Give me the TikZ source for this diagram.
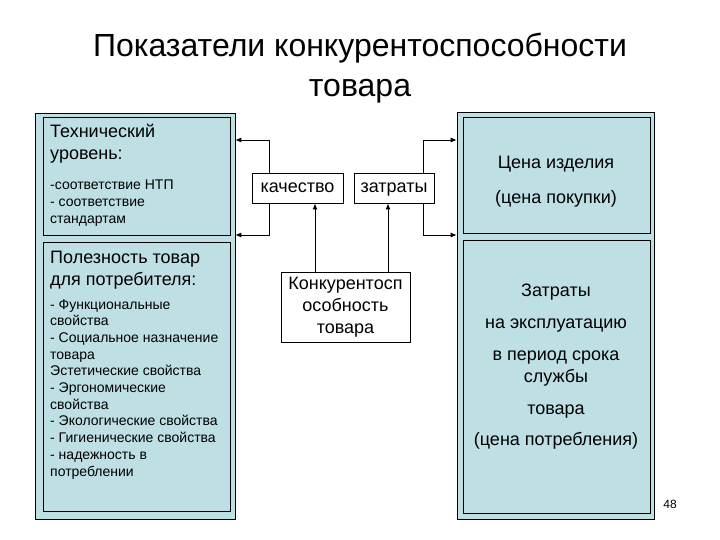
\documentclass[tikz,border=0pt]{standalone}
\usepackage{fontspec}
\setmainfont{Liberation Sans}
\usetikzlibrary{positioning,arrows.meta}
\definecolor{panelblue}{RGB}{190,223,228}

\begin{document}
\begin{tikzpicture}[
  x=1pt, y=-1pt,
  panel/.style={draw, fill=panelblue, line width=0.6pt},
  box/.style={draw, line width=0.9pt, inner sep=0pt},
  head/.style={inner sep=0pt, align=left, font=\fontsize{18}{22}\selectfont},
  list/.style={inner sep=0pt, align=left, font=\fontsize{14}{16.7}\selectfont},
  rtext/.style={inner sep=0pt, align=center, font=\fontsize{18}{22}\selectfont},
  wbox/.style={draw, fill=white, line width=0.9pt, align=center, inner sep=2pt, font=\fontsize{18}{22}\selectfont},
  word/.style={wbox, text height=13pt, text depth=4pt},
  arrow/.style={-{Latex[length=6pt,width=5pt]}, line width=0.9pt}
]
\useasboundingbox (0,0) rectangle (720,540);
% base of a multi-line node = baseline of its last line
\node[anchor=base, align=center, inner sep=0pt, font=\fontsize{32}{40}\selectfont] (title) at (360,97) {Показатели конкурентоспособности\\товара};

% left side
\node[panel, minimum width=200pt, minimum height=406pt] (leftpanel) at (135,316) {};
\node[box, minimum width=187pt, minimum height=118pt] (tech) at (136.5,176) {};
\node[box, minimum width=187pt, minimum height=269pt] (useful) at (136.5,376.5) {};
\node[head, anchor=base west] (techhead) at (50,160) {Технический\\уровень:};
\node[list, anchor=base west] (techlist) at (50,223) {-соответствие НТП\\- соответствие\\стандартам};
\node[head, anchor=base west] (usehead) at (50,285) {Полезность товар\\для потребителя:};
\node[list, anchor=base west] (uselist) at (50,476) {- Функциональные\\свойства\\- Социальное назначение\\товара\\Эстетические свойства\\- Эргономические\\свойства\\- Экологические свойства\\- Гигиенические свойства\\- надежность в\\потреблении};

% right side
\node[panel, minimum width=197pt, minimum height=407pt] (rightpanel) at (555.5,315.5) {};
\node[box, minimum width=187pt, minimum height=116pt] (price) at (556.5,175) {};
\node[box, minimum width=187pt, minimum height=273pt] (costs) at (556.5,376.5) {};
\node[rtext, anchor=base] (pricetxt) at (556,204) {Цена изделия\\[13pt](цена покупки)};
\node[rtext, anchor=base] (coststxt) at (556,445) {Затраты\\[10pt]на эксплуатацию\\[10pt]в период срока\\службы\\[10pt]товара\\[9pt](цена потребления)};

% middle
\node[word, minimum width=91pt, minimum height=30pt] (quality) at (297.5,188) {качество};
\node[word, minimum width=80pt, minimum height=30pt] (cost) at (394,188) {затраты};
\node[wbox, minimum width=129pt, minimum height=70pt] (compet) at (345.5,307) {Конкурентосп\\особность\\товара};

\coordinate (qtop) at (269,140);
\coordinate (qbot) at (269,235);
\coordinate (ctop) at (423,140);
\coordinate (cbot) at (423,235);
\draw[arrow] (quality.north -| qtop) -- (qtop) -- (qtop -| leftpanel.east);
\draw[arrow] (quality.south -| qbot) -- (qbot) -- (qbot -| leftpanel.east);
\draw[arrow] (cost.north -| ctop) -- (ctop) -- (ctop -| rightpanel.west);
\draw[arrow] (cost.south -| cbot) -- (cbot) -- (cbot -| rightpanel.west);
\draw[arrow] ([xshift=-30.5pt]compet.north) -- ([xshift=17.5pt]quality.south);
\draw[arrow] ([xshift=42.5pt]compet.north) -- ([xshift=-6pt]cost.south);

\node[font=\fontsize{12}{14}\selectfont, inner sep=1pt] (pagenum) at (670,504) {48};
\end{tikzpicture}
\end{document}
